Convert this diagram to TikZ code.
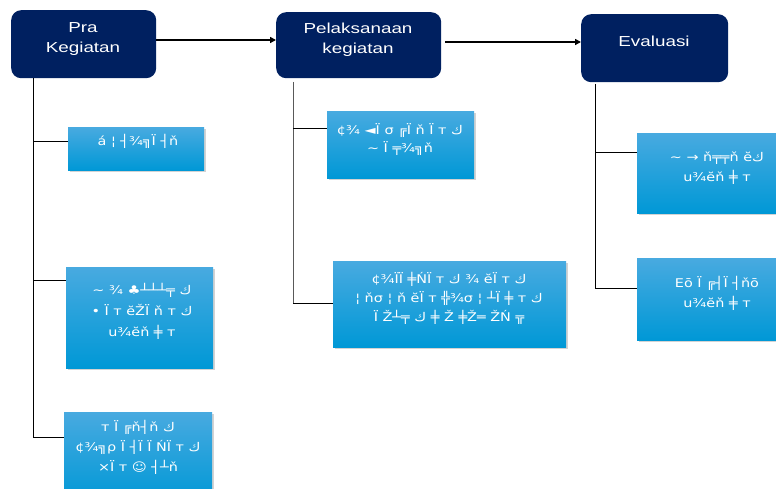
\documentclass[tikz,border=0pt]{standalone}
\usepackage{fontspec}
\setmainfont{Liberation Sans}
\newfontfamily\phasefont[FakeStretch=1.3]{Liberation Sans}
\newfontfamily\gl[FakeStretch=1.2]{DejaVu Sans}
\usetikzlibrary{shadows,arrows.meta}
\definecolor{navy}{RGB}{0,32,96}
\definecolor{btop}{RGB}{72,170,224}
\definecolor{bbot}{RGB}{0,152,214}
\begin{document}
\begin{tikzpicture}[x=1pt,y=-1pt,
 phase/.style={fill=navy, rounded corners=10pt, anchor=north west, inner sep=0pt},
 phasetext/.style={text=white, font=\phasefont\fontsize{14.5}{20}\selectfont, align=center, anchor=north},
 item/.style={top color=btop, bottom color=bbot, anchor=north west, inner sep=0pt,
   drop shadow={opacity=0.35, shadow xshift=2pt, shadow yshift=-2pt}},
 itemtext/.style={text=white, font=\gl\fontsize{12}{20}\selectfont, align=center, anchor=north},
 flow/.style={line width=2.8pt, -{Triangle[length=6pt,width=6pt]}},
 link/.style={line width=0.6pt},
]
\clip (0,0) rectangle (776,489);
% phases
\node[phase, minimum width=145pt, minimum height=68pt] (pra) at (11,10) {};
\node[phasetext] (prat) at (83,19) {Pra\\Kegiatan};
\node[phase, minimum width=165pt, minimum height=66pt] (pel) at (276,12) {};
\node[phasetext] (pelt) at (358,19) {Pelaksanaan\\kegiatan};
\node[phase, minimum width=147pt, minimum height=68pt] (eva) at (581,14) {};
\node[phasetext] (evat) at (654,32) {Evaluasi};
% flow arrows
\coordinate (f1s) at (156,40);
\coordinate (f2s) at (445,42);
\draw[flow] (f1s) -- (f1s -| pel.west);
\draw[flow] (f2s) -- (f2s -| eva.west);
% items
\node[item, minimum width=136pt, minimum height=43pt] (a) at (68,127) {};
\node[itemtext] (at) at (138,131) {á ¦ ┤¾╗Ï ┤ň};
\node[item, minimum width=147pt, minimum height=101pt] (b) at (66,267) {};
\node[itemtext, font=\gl\fontsize{12}{21}\selectfont] (bt) at (142,280) {∼ ¾ ♣┴┴┴╤ ك\\• Ï т ĕŽÏ ň т ك\\u¾ĕň ╪ т};
\node[item, minimum width=148pt, minimum height=90pt] (c) at (64,412) {};
\node[itemtext] (ct) at (138,417) {т Ï ╔ň┤ň ك\\¢¾╗ρ Ï ┤Ï Ï ŃÏ т ك\\×Ï т ☺ ┤┴ň};
\node[item, minimum width=147pt, minimum height=67pt] (d) at (327,111) {};
\node[itemtext, font=\gl\fontsize{12}{18}\selectfont] (dt) at (400,120) {¢¾ ◄Ï σ ╔Ï ň Ï т ك\\∼ Ï ╤¾╗ň};
\node[item, minimum width=233pt, minimum height=86pt] (e) at (333,261) {};
\node[itemtext, font=\gl\fontsize{12}{19}\selectfont] (et) at (449,269) {¢¾ÏÏ ╪ŃÏ т ك ¾ ĕÏ т ك\\¦ ňσ ¦ ň ĕÏ т ╬¾σ ¦ ┴Ï ╪ т ك\\Ï Ž┴╤ ك ╪ Ž ╪Ž═ ŽŃ ╦};
\node[item, minimum width=160pt, minimum height=80pt] (f) at (637,133) {};
\node[itemtext] (ft) at (717,148) {∼ → ň╤╤ň ĕك\\u¾ĕň ╪ т};
\node[item, minimum width=160pt, minimum height=82pt] (g) at (637,258) {};
\node[itemtext] (gt) at (717,273) {Eō Ï ╔┤Ï ┤ňō\\u¾ĕň ╪ т};
% spines
\coordinate (s1) at (33,78);  \coordinate (s1e) at (33,437);
\coordinate (s2) at (293,82); \coordinate (s2e) at (293,303);
\coordinate (s3) at (595,84); \coordinate (s3e) at (595,288);
\draw[link] (s1) -- (s1e);
\draw[link, gray!70!black] (s2) -- (s2e);
\draw[link] (s3) -- (s3e);
\coordinate (ba) at (33,141); \coordinate (bb) at (33,280);
\draw[link] (ba) -- (ba -| a.west);
\draw[link] (bb) -- (bb -| b.west);
\draw[link] (s1e) -- (s1e -| c.west);
\coordinate (bd) at (293,128);
\draw[link] (bd) -- (bd -| d.west);
\draw[link] (s2e) -- (s2e -| e.west);
\coordinate (bf) at (595,152);
\draw[link] (bf) -- (bf -| f.west);
\draw[link] (s3e) -- (s3e -| g.west);
\end{tikzpicture}
\end{document}
